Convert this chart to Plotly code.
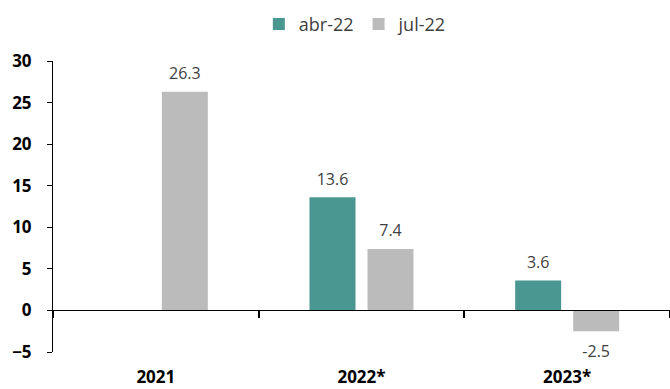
import plotly.graph_objects as go

categories = ["2021", "2022*", "2023*"]
abr_22 = [None, 13.6, 3.6]
jul_22 = [26.3, 7.4, -2.5]
series_names = ["abr-22", "jul-22"]
colors = ["#4A9690", "#BBBBBB"]
y_ticks = [-5, 0, 5, 10, 15, 20, 25, 30]

FONT = "Open Sans, DejaVu Sans, sans-serif"
BARGAP = 0.436

fig = go.Figure()
for i, (name, vals, col) in enumerate(zip(series_names, [abr_22, jul_22], colors)):
    fig.add_trace(go.Bar(
        x=categories, y=vals, name=name, marker=dict(color=col, line=dict(width=0)),
        offsetgroup=str(i), hoverinfo="skip",
    ))

for i, vals in enumerate([abr_22, jul_22]):
    txt = [None if v is None else f"{v:.1f}" for v in vals]
    pos = ["bottom center" if (v is not None and v < 0) else "top center" for v in vals]
    sizes = [21 if (v is not None and v < 0) else 12 for v in vals]
    fig.add_trace(go.Scatter(
        x=categories, y=vals, mode="markers+text", text=txt, textposition=pos,
        marker=dict(size=sizes, color="rgba(0,0,0,0)", opacity=0, line=dict(width=0)),
        textfont=dict(family=FONT, size=16, color="#404040"),
        offsetgroup=str(i), showlegend=False, hoverinfo="skip", cliponaxis=False,
    ))

# dummy trace to host the zero-line axis with boundary ticks
fig.add_trace(go.Scatter(x=categories, y=[None] * len(categories), xaxis="x2",
                         showlegend=False, hoverinfo="skip", mode="lines"))

fig.update_layout(
    width=670, height=389,
    margin=dict(l=53, r=0, t=61, b=37),
    paper_bgcolor="white", plot_bgcolor="white",
    barmode="group", bargap=BARGAP, bargroupgap=0.207,
    scattermode="group", scattergap=BARGAP,
    font=dict(family=FONT, color="#000000"),
    showlegend=True,
    legend=dict(orientation="h", x=0.49, xanchor="center", y=0.985, yanchor="top",
                yref="container", font=dict(size=18, color="#404040"),
                traceorder="normal", itemclick=False, itemdoubleclick=False),
    xaxis=dict(type="category", showline=False, ticks="", showgrid=False, zeroline=False,
               tickfont=dict(size=17, family=FONT, color="#000000", weight="bold"),
               ticklabelstandoff=13, range=[-0.5, 2.5]),
    xaxis2=dict(type="category", overlaying="x", anchor="free", position=5 / 35,
                categoryorder="array", categoryarray=categories,
                range=[-0.5, 2.5], showline=True, linecolor="#000000", linewidth=1,
                ticks="outside", tickson="boundaries", ticklen=7, tickwidth=1.5,
                tickcolor="#000000", showticklabels=False, showgrid=False, zeroline=False),
    yaxis=dict(range=[-5, 30], tickvals=y_ticks, showline=True, linecolor="#000000",
               linewidth=1, ticks="outside", ticklen=5, tickcolor="#000000",
               showgrid=False, zeroline=False,
               tickfont=dict(size=17, family=FONT, color="#000000", weight="bold"),
               ticklabelstandoff=12),
)

fig.write_html("out.html")
